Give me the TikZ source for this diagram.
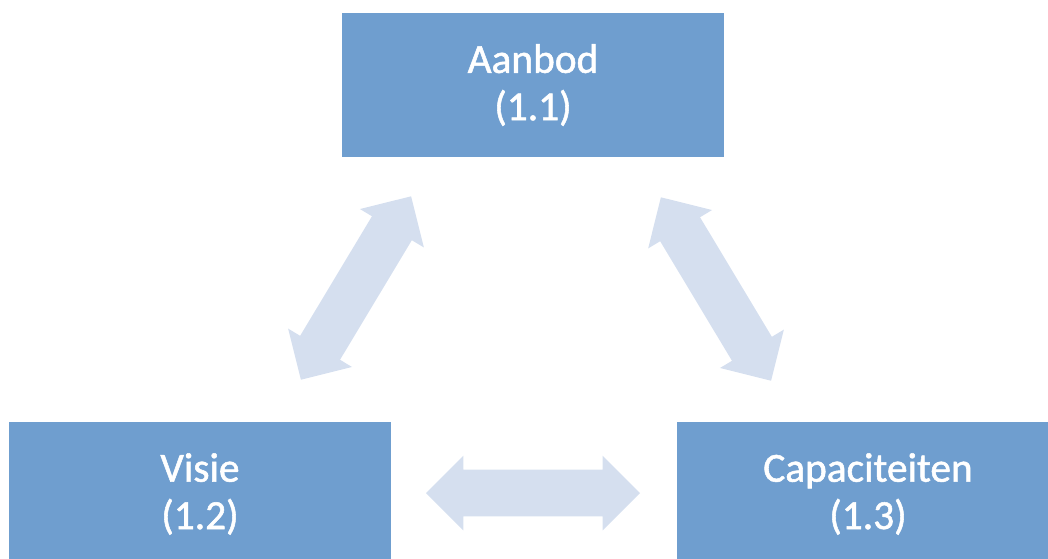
\documentclass[tikz,border=0pt]{standalone}
\usepackage{fontspec}
\setmainfont{Carlito}
\newfontfamily\blokfont[FakeBold=1.3]{Carlito}
\usetikzlibrary{shapes.arrows}

\definecolor{boxblue}{RGB}{111,158,207}
\definecolor{arrowblue}{RGB}{213,223,239}

\begin{document}
\begin{tikzpicture}[x=0.75pt,y=-0.75pt,
  blok/.style={fill=boxblue,text=white,minimum width=286.5pt,minimum height=108pt,
    align=center,font=\blokfont\fontsize{31}{35.5}\selectfont},
  pijl/.style={double arrow,fill=arrowblue,draw=none,inner sep=0pt,inner ysep=17.25pt,
    double arrow head extend=10.5pt,minimum height=160.5pt,double arrow tip angle=90}]
\useasboundingbox (0,0) rectangle (1048,558);
\node[blok] (aanbod) at (533,85) {Aanbod\\(1.1)};
\node[blok] (visie) at (200,494) {Visie\\(1.2)};
\node[blok] (cap) at (868,494) {Capaciteiten\\(1.3)};
% pijlen tussen de blokken
\node[pijl,rotate=59] (p1) at (356,288) {};
\node[pijl,rotate=-59] (p2) at (716,289) {};
\node[pijl] (p3) at (533,493) {};
\end{tikzpicture}
\end{document}
